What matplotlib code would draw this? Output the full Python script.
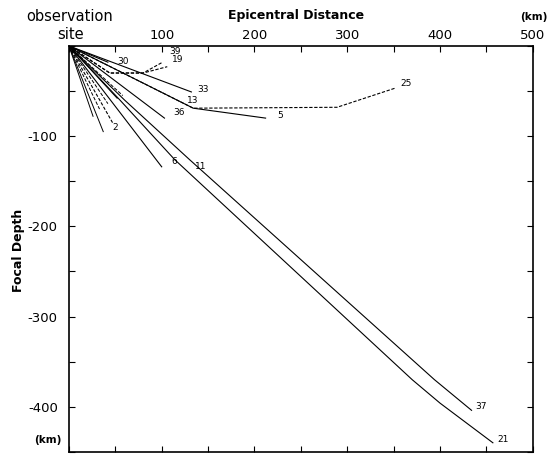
import matplotlib.pyplot as plt

# event paths: (label, linestyle, x km, depth km)
paths = [
    ("21", "-", [0, 55, 114, 370, 400, 457], [0, -60, -126, -370, -396, -440]),
    ("37", "-", [0, 60, 130, 394, 434], [0, -60, -126, -370, -404]),
    ("6", "-", [0, 100], [0, -134]),
    ("36", "-", [0, 103], [0, -80]),
    ("33", "-", [0, 132], [0, -51]),
    ("5", "-", [0, 134, 212], [0, -69, -80]),
    ("13", "--", [0, 134, 289, 351], [0, -69, -68, -47]),
    ("30", "-", [0, 42], [0, -18]),
    ("39", "--", [0, 44, 80, 101], [0, -30, -30, -18]),
    ("19", "--", [0, 44, 80, 106], [0, -30, -30, -23]),
    ("2", "--", [0, 47], [0, -85]),
]
cluster = [
    ("-", [0, 37], [0, -95]),
    ("-", [0, 26], [0, -78]),
    ("--", [0, 33], [0, -70]),
    ("--", [0, 42], [0, -64]),
    ("-", [0, 52], [0, -58]),
    ("--", [0, 58], [0, -55]),
]
labels = [
    ("21", 462, -436), ("37", 438, -400), ("6", 110, -128), ("11", 136, -134),
    ("36", 112, -74), ("33", 138, -48), ("5", 225, -77), ("13", 127, -61),
    ("25", 357, -42), ("30", 52, -17), ("39", 108, -6), ("19", 111, -15.5),
    ("2", 47, -90),
]

xticks = list(range(0, 501, 50))
yticks = list(range(-450, 1, 50))

fig = plt.figure(figsize=(5.47, 4.55), dpi=100)
ax = fig.add_axes([0.126, 0.007, 0.848, 0.892])

for name, ls, xs, ys in paths:
    if ls == "--":
        ax.plot(xs, ys, color="black", linestyle=ls, linewidth=0.8, dashes=(3, 1.5))
    else:
        ax.plot(xs, ys, color="black", linestyle=ls, linewidth=0.8)
for ls, xs, ys in cluster:
    ax.plot(xs, ys, color="black", linestyle=ls, linewidth=0.7)
for text, x, y in labels:
    ax.text(x, y, text, fontsize=6.5, ha="left", va="center")

ax.set_xlim(0, 500)
ax.set_ylim(-450, 0)
ax.xaxis.tick_top()
ax.set_xticks(xticks)
ax.set_xticklabels(["" if v % 100 or v == 0 else str(v) for v in xticks])
ax.set_yticks(yticks)
ax.set_yticklabels(["%d" % v if v % 100 == 0 and -400 <= v <= -100 else "" for v in yticks])
ax.tick_params(direction="in", length=4.5, labelsize=9.5, top=True, bottom=True, left=True, right=True,
               labelbottom=False, pad=3)
ax.tick_params(axis="y", pad=8)
for sp in ax.spines.values():
    sp.set_linewidth(1.2)

fig.text(0.128, 0.98, "observation", ha="center", va="top", fontsize=10.5)
fig.text(0.128, 0.94, "site", ha="center", va="top", fontsize=10.5)
fig.text(0.542, 0.98, "Epicentral Distance", ha="center", va="top", fontsize=9, fontweight="bold")
fig.text(0.976, 0.963, "(km)", ha="center", va="center", fontsize=7.5, fontweight="bold")
fig.text(0.088, 0.033, "(km)", ha="center", va="center", fontsize=7.5, fontweight="bold")
fig.text(0.033, 0.45, "Focal Depth", rotation=90, ha="center", va="center", fontsize=9, fontweight="bold")

fig.savefig("out.png", dpi=100)
